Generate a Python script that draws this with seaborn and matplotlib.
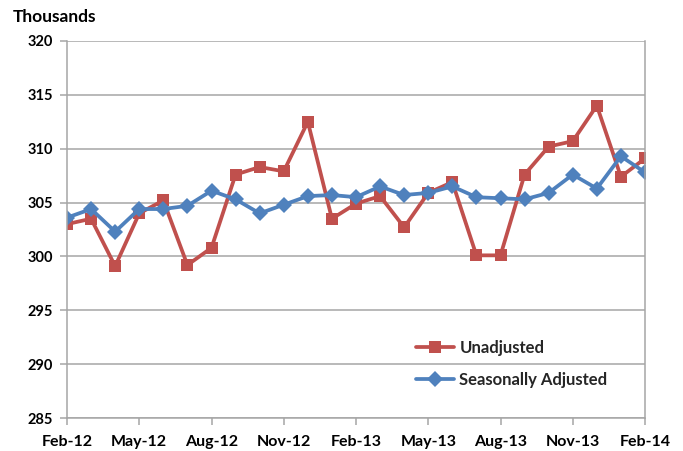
import matplotlib
matplotlib.use("Agg")
import matplotlib.pyplot as plt
import seaborn as sns
import pandas as pd

months = ["Feb-12", "Mar-12", "Apr-12", "May-12", "Jun-12", "Jul-12", "Aug-12", "Sep-12",
          "Oct-12", "Nov-12", "Dec-12", "Jan-13", "Feb-13", "Mar-13", "Apr-13", "May-13",
          "Jun-13", "Jul-13", "Aug-13", "Sep-13", "Oct-13", "Nov-13", "Dec-13", "Jan-14", "Feb-14"]
unadjusted = [303.0, 303.5, 299.1, 304.0, 305.2, 299.2, 300.8, 307.6, 308.3, 307.9, 312.5, 303.5,
              304.9, 305.6, 302.7, 305.9, 306.9, 300.1, 300.1, 307.6, 310.2, 310.7, 314.0, 307.4, 309.1]
seasonal = [303.6, 304.4, 302.3, 304.4, 304.4, 304.7, 306.1, 305.3, 304.0, 304.8, 305.6, 305.7,
            305.5, 306.5, 305.7, 305.9, 306.5, 305.5, 305.4, 305.3, 305.9, 307.6, 306.3, 309.3, 307.8]
tick_labels = ["Feb-12", "May-12", "Aug-12", "Nov-12", "Feb-13", "May-13", "Aug-13", "Nov-13", "Feb-14"]
y_ticks = [285, 290, 295, 300, 305, 310, 315, 320]

sns.set_theme(style="white")
plt.rcParams["font.family"] = ["Lato", "DejaVu Sans"]
plt.rcParams["font.weight"] = "bold"

idx = list(range(len(months)))
df = pd.DataFrame({
    "idx": idx * 2,
    "value": unadjusted + seasonal,
    "series": ["Unadjusted"] * len(months) + ["Seasonally Adjusted"] * len(months),
})

fig = plt.figure(figsize=(6.83, 4.51), dpi=100)
ax = fig.add_axes([67 / 683, 1 - 418 / 451, (645 - 67) / 683, (418 - 41) / 451])

palette = {"Unadjusted": "#C0504D", "Seasonally Adjusted": "#4F81BD"}
markers = {"Unadjusted": "s", "Seasonally Adjusted": "D"}
sns.lineplot(data=df, x="idx", y="value", hue="series", style="series",
             palette=palette, markers=markers, dashes=False, linewidth=2.7,
             markersize=9, markeredgewidth=0, ax=ax, legend=True)
for ln in ax.lines:
    if ln.get_marker() == "D":
        ln.set_markersize(8.5)

ax.set_xlim(0, len(months) - 1)
ax.set_ylim(285, 320)
ax.set_yticks(y_ticks)
ax.set_yticklabels([str(v) for v in y_ticks], fontsize=10.5, fontweight="bold")
tick_pos = [months.index(t) for t in tick_labels]
ax.set_xticks(tick_pos)
ax.set_xticklabels(tick_labels, fontsize=11.5, fontweight="bold")
ax.set_xlabel("")
ax.set_ylabel("")

ax.grid(axis="y", color="#A6A6A6", linewidth=1.1)
ax.grid(axis="x", visible=False)
ax.set_axisbelow(True)
for side in ["left", "bottom", "right"]:
    ax.spines[side].set_visible(True)
    ax.spines[side].set_color("#A6A6A6")
    ax.spines[side].set_linewidth(1.1)
ax.spines["top"].set_visible(False)
ax.tick_params(axis="both", which="both", direction="out", length=5, width=1.1,
               color="#A6A6A6", labelcolor="black", bottom=True, left=True)
ax.tick_params(axis="x", pad=7)
ax.tick_params(axis="y", pad=5)

fig.text(13 / 683, 1 - 17 / 451, "Thousands", fontsize=12.5, fontweight="bold",
         ha="left", va="center", color="black")

handles, labels = ax.get_legend_handles_labels()
leg = ax.legend(handles, labels, loc="upper left", bbox_to_anchor=(416 / 683, 1 - 340 / 451),
                bbox_transform=fig.transFigure, frameon=False, fontsize=12,
                handlelength=2.3, labelspacing=0.95, handletextpad=0.3,
                borderpad=0, borderaxespad=0)
for t in leg.get_texts():
    t.set_fontweight("bold")

fig.savefig("out.png", dpi=100)
